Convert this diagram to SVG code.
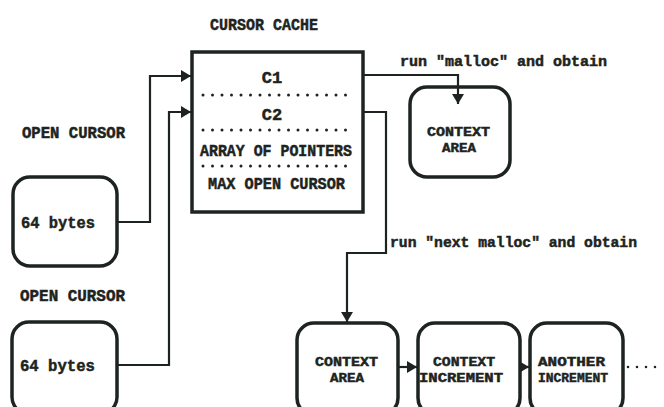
<svg xmlns="http://www.w3.org/2000/svg" width="664" height="407" viewBox="0 0 664 407">
<style>
text{font-family:"Liberation Mono","DejaVu Sans Mono",monospace;font-weight:bold;fill:#1d2420;stroke:#1d2420;stroke-width:0.5;font-size:17px}
.sm{font-size:13.5px}
.lbl{font-size:15px}
.box{fill:#fff;stroke:#1d2420;stroke-width:3.5}
.line{fill:none;stroke:#1d2420;stroke-width:2.2}
.dots{fill:none;stroke:#1d2420;stroke-width:3;stroke-linecap:round;stroke-dasharray:0 9.5}
</style>
<defs>
<marker id="ah" markerWidth="10" markerHeight="12" refX="10" refY="6" orient="auto" markerUnits="userSpaceOnUse">
<path d="M0,0 L10,6 L0,12 Z" fill="#1d2420"/>
</marker>
</defs>
<rect width="664" height="407" fill="#fff"/>

<g id="cursor-cache">
<text x="210" y="30" textLength="108" lengthAdjust="spacingAndGlyphs">CURSOR CACHE</text>
<rect class="box" x="192" y="52" width="171" height="160"/>
<text x="272" y="83" text-anchor="middle">C1</text>
<line class="dots" x1="203" y1="95" x2="352" y2="95"/>
<text x="272" y="120" text-anchor="middle">C2</text>
<line class="dots" x1="203" y1="130" x2="352" y2="130"/>
<text x="200" y="156" textLength="152" lengthAdjust="spacingAndGlyphs">ARRAY OF POINTERS</text>
<line class="dots" x1="203" y1="166" x2="352" y2="166"/>
<text x="208" y="189" textLength="137" lengthAdjust="spacingAndGlyphs">MAX OPEN CURSOR</text>
</g>

<g id="open-cursor-1">
<text x="22" y="138" textLength="103" lengthAdjust="spacingAndGlyphs">OPEN CURSOR</text>
<rect class="box" x="13" y="177" width="104" height="89" rx="17"/>
<text x="21" y="228" textLength="74" lengthAdjust="spacingAndGlyphs">64 bytes</text>
</g>

<g id="open-cursor-2">
<text x="20" y="301" textLength="105" lengthAdjust="spacingAndGlyphs">OPEN CURSOR</text>
<rect class="box" x="12" y="322" width="105" height="92" rx="17"/>
<text x="20" y="371" textLength="75" lengthAdjust="spacingAndGlyphs">64 bytes</text>
</g>

<g id="context-area-top">
<rect class="box" x="410" y="87" width="100" height="90" rx="17"/>
<text class="sm" x="427" y="136" textLength="63" lengthAdjust="spacingAndGlyphs">CONTEXT</text>
<text class="sm" x="442" y="152" textLength="34" lengthAdjust="spacingAndGlyphs">AREA</text>
</g>

<g id="context-area-bottom">
<rect class="box" x="297" y="323" width="101" height="92" rx="17"/>
<text class="sm" x="315" y="366" textLength="63" lengthAdjust="spacingAndGlyphs">CONTEXT</text>
<text class="sm" x="330" y="382" textLength="34" lengthAdjust="spacingAndGlyphs">AREA</text>
</g>

<g id="context-increment">
<rect class="box" x="418" y="323" width="102" height="92" rx="17"/>
<text class="sm" x="433" y="366" textLength="62" lengthAdjust="spacingAndGlyphs">CONTEXT</text>
<text class="sm" x="419" y="382" textLength="84" lengthAdjust="spacingAndGlyphs">INCREMENT</text>
</g>

<g id="another-increment">
<rect class="box" x="530" y="323" width="93" height="92" rx="17"/>
<text class="sm" x="538" y="366" textLength="67" lengthAdjust="spacingAndGlyphs">ANOTHER</text>
<text class="sm" x="538" y="382" textLength="70" lengthAdjust="spacingAndGlyphs">INCREMENT</text>
</g>

<g id="connectors">
<polyline class="line" points="117,222 150,222 150,76 191,76" marker-end="url(#ah)"/>
<polyline class="line" points="117,365 169,365 169,112 191,112" marker-end="url(#ah)"/>
<polyline class="line" points="363,75 458,75 458,104" marker-end="url(#ah)"/>
<polyline class="line" points="363,112 386,112 386,253 347,253 347,322" marker-end="url(#ah)"/>
<line class="line" x1="398" y1="367" x2="417" y2="367" marker-end="url(#ah)"/>
<line class="line" x1="520" y1="367" x2="529" y2="367" marker-end="url(#ah)"/>
<line class="dots" x1="628" y1="367" x2="660" y2="367" style="stroke-dasharray:0 9;stroke-width:2.6"/>
<text class="lbl" x="400" y="66">run "malloc" and obtain</text>
<text class="lbl" x="390" y="247" textLength="247" lengthAdjust="spacingAndGlyphs">run "next malloc" and obtain</text>
</g>
</svg>
